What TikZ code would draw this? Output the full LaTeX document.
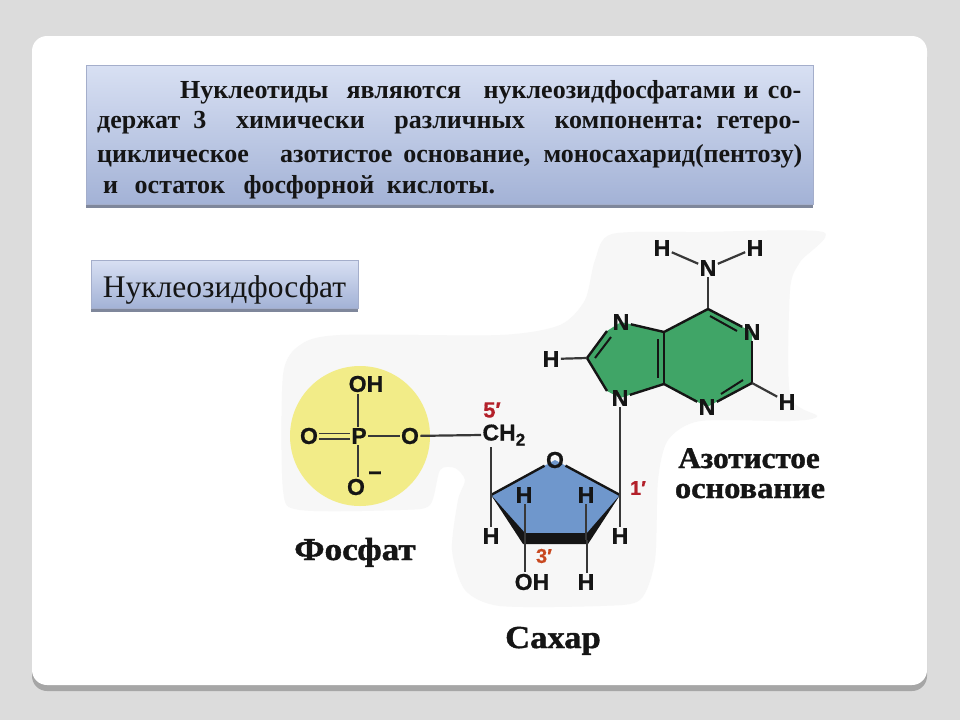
\documentclass[tikz,border=0pt]{standalone}
\usepackage{fontspec}
\setmainfont{Liberation Serif}
\newfontfamily\chemfont[FakeBold=0.6]{Liberation Sans Bold}
\newfontfamily\capfont[FakeBold=1.2]{Liberation Serif Bold}
\usetikzlibrary{calc}
\definecolor{pagebg}{HTML}{DCDCDC}
\definecolor{cardshadow}{HTML}{A6A6A6}
\definecolor{blobgray}{HTML}{F7F7F7}
\definecolor{boxtop}{HTML}{D8E0F3}
\definecolor{boxbot}{HTML}{A3B2D6}
\definecolor{boxedge}{HTML}{A4AECB}
\definecolor{boxshadow}{HTML}{7F879B}
\definecolor{phosyellow}{HTML}{F2EC88}
\definecolor{sugarblue}{HTML}{6F97CC}
\definecolor{basegreen}{HTML}{40A567}
\definecolor{primered}{HTML}{B3202A}
\definecolor{primeorange}{HTML}{C8481F}
\definecolor{inkdark}{HTML}{151515}
\newcommand{\gp}[1]{\hskip 0pt plus #1fil\relax}
\tikzset{
  atom/.style={font=\chemfont\fontsize{23}{23}\selectfont,text=inkdark,inner sep=1.5pt,outer sep=0pt},
  prime/.style={font=\chemfont\fontsize{22}{22}\selectfont,inner sep=0pt},
  bond/.style={draw=inkdark!85,line width=2.2pt},
  ringbond/.style={draw=inkdark,line width=2.4pt},
  bodyline/.style={anchor=base west,inner sep=0pt,text=inkdark,font=\bfseries\fontsize{26}{28}\selectfont},
  caption/.style={anchor=base,font=\capfont\fontsize{32}{34}\selectfont,text=inkdark,inner sep=0pt}
}
\begin{document}
\begin{tikzpicture}[x=1pt,y=-1pt]
\useasboundingbox (0,0) rectangle (960,720);
\fill[pagebg] (0,0) rectangle (960,720);
% card
\fill[cardshadow,rounded corners=15pt] (32,42) rectangle (927,691);
\fill[white,rounded corners=15pt] (32,36) rectangle (927,685);
% top box
\fill[boxshadow] (86,70) rectangle (813,208);
\path[draw=boxedge,line width=.8pt,top color=boxtop,bottom color=boxbot] (86,65) rectangle (813,204);
\node[bodyline] (l1) at (180,98) {\hbox to 621pt{Нуклеотиды\gp{8} являются\gp{11} нуклеозидфосфатами\gp{1} и\gp{2} со-}};
\node[bodyline] (l2) at (97,128) {\hbox to 703pt{держат\gp{6} 3\gp{21} химически\gp{21} различных\gp{21} компонента:\gp{4} гетеро-}};
\node[bodyline] (l3) at (97,162) {\hbox to 705pt{циклическое\gp{11} азотистое\gp{2} основание,\gp{3} моносахарид(пентозу)}};
\node[bodyline] (l4) at (103,193) {\hbox to 392pt{и\gp{10} остаток\gp{12} фосфорной\gp{6} кислоты.}};
% label box
\fill[boxshadow] (91,265) rectangle (358,312);
\path[draw=boxedge,line width=.8pt,top color=boxtop,bottom color=boxbot] (91,260) rectangle (358,308);
\node[inner sep=0pt,text=inkdark,anchor=base,font=\fontsize{31.5}{33}\selectfont] (title) at (224.5,297) {Нуклеозидфосфат};
% gray blob
\fill[blobgray] plot[smooth cycle,tension=.45] coordinates {(283,375)(300,345)(340,335)(500,335)(560,325)(585,300)(595,260)(612,234)(700,232)(823,232)(800,262)(790,290)(790,395)(817,416)(790,421)(700,421)(668,440)(658,480)(655,560)(640,600)(600,606)(500,606)(465,590)(452,550)(458,500)(465,480)(455,468)(440,470)(430,505)(400,510)(300,510)(283,490)};
% phosphate
\fill[phosyellow] (360,436) circle (70);
\node[atom] (oh) at (366,384) {OH};
\node[atom] (ol) at (309,436) {O};
\node[atom] (p) at (359,436) {P};
\node[atom] (or) at (410,436) {O};
\node[atom] (om) at (356,487) {O};
\node[inner sep=0pt,font=\chemfont\fontsize{23}{23}\selectfont,text=inkdark] (minus) at (375,476) {−};
\draw[bond] (p.north) ++(-1,0) coordinate (ptop) -- (ptop |- oh.south);
\draw[bond] (p.south) ++(-1,0) coordinate (pbot) -- (pbot |- om.north);
\draw[bond,line width=1.6pt] ($(ol.east)+(0,-2.7)$) -- ($(p.west)+(0,-2.7)$);
\draw[bond,line width=1.6pt] ($(ol.east)+(0,2.7)$) -- ($(p.west)+(0,2.7)$);
\draw[bond] (p) -- (or);
% CH2
\node[atom,anchor=west] (ch2) at (481,435) {CH\raisebox{-5pt}{\fontsize{17}{17}\selectfont 2}};
\node[prime,text=primered] (five) at (492,410) {5′};
\draw[bond] (or) -- (ch2.west);
% sugar
\coordinate (sl) at (491,495);
\coordinate (sr) at (620,495);
\coordinate (sbl) at (525,540);
\coordinate (sbr) at (587,540);
\fill[sugarblue] (sl) -- (555,460) -- (sr) -- (sbr) -- (sbl) -- cycle;
\fill[inkdark] (sl) -- (523,544) -- (588,544) -- (sr) -- (587,533) -- (525,533) -- cycle;
\node[atom] (so) at (555,460) {O};
\draw[ringbond] (sl) -- (so);
\draw[ringbond] (so) -- (sr);
\node[atom] (h1) at (524,495) {H};
\node[atom] (h2) at (586,495) {H};
\node[atom] (h3) at (491,536) {H};
\node[atom] (h4) at (620,536) {H};
\node[atom] (soh) at (532,582) {OH};
\node[atom] (h5) at (586,582) {H};
\node[prime,text=primered,font=\chemfont\fontsize{20}{20}\selectfont] (one) at (638,488) {1′};
\node[prime,text=primeorange,font=\chemfont\fontsize{20}{20}\selectfont] (three) at (544,556) {3′};
\draw[bond] (h1.south) ++(1,0) coordinate (a1) -- (a1 |- sbl);
\draw[bond] (h2.south) -- (h2.south |- sbr);
\coordinate (chb) at (491,447);
\draw[bond] (chb) -- (h3.north);
\draw[bond] (sbl) -- (sbl |- soh.north);
\draw[bond] (sbr) -- (sbr |- h5.north);
% base
\coordinate (c6) at (708,309);
\coordinate (c2) at (752,383);
\coordinate (c4) at (664,384);
\coordinate (c5) at (664,332);
\coordinate (c8) at (587,358);
\coordinate (n7w) at (607,331);
\coordinate (n9w) at (607,391);
\fill[basegreen] (c6) -- (752,332) -- (c2) -- (707,407) -- (c4) -- (620,398) -- (n9w) -- (c8) -- (n7w) -- (621,322) -- (c5) -- cycle;
\node[atom] (na) at (708,268) {N};
\node[atom] (ha) at (662,248) {H};
\node[atom] (hb) at (755,248) {H};
\node[atom] (n1) at (752,332) {N};
\node[atom] (n3) at (707,407) {N};
\node[atom] (n7) at (621,322) {N};
\node[atom] (n9) at (620,398) {N};
\node[atom] (h8) at (551,359) {H};
\node[atom] (h6) at (787,402) {H};
\draw[bond] (ha) -- (na);
\draw[bond] (hb) -- (na);
\draw[bond] (na) -- (c6);
\draw[ringbond] (c6) -- (n1);
\draw[ringbond] (n1) -- (c2);
\draw[ringbond] (c2) -- (n3);
\draw[ringbond] (n3) -- (c4);
\draw[ringbond,line width=2.8pt] (c4) -- (c5);
\draw[ringbond] (c5) -- (c6);
\draw[ringbond] (c5) -- (n7);
\draw[ringbond] (c8) -- (n7w);
\draw[ringbond] (c8) -- (n9w);
\draw[ringbond] (n9) -- (c4);
\draw[bond] (h8) -- (c8);
\draw[bond] (c2) -- (h6);
\draw[ringbond,line width=2pt] (657.5,339) -- (657.5,378);
\draw[ringbond,line width=2pt] (710,316) -- (737,331);
\draw[ringbond,line width=2pt] (743,380) -- (721,394);
\draw[ringbond,line width=2pt] (595,358) -- (611,337);
\draw[bond] (n9) -- (h4);
% captions
\node[caption] (fos) at (355,560) {\scalebox{1.1}[1]{Фосфат}};
\node[caption] (sah) at (553,648) {\scalebox{1.08}[1]{Сахар}};
\node[caption,font=\capfont\fontsize{30}{32}\selectfont] (azo) at (749,468) {\scalebox{1.04}[1]{Азотистое}};
\node[caption,font=\capfont\fontsize{30}{32}\selectfont] (osn) at (750,498) {\scalebox{1.08}[1]{основание}};
\end{tikzpicture}
\end{document}
